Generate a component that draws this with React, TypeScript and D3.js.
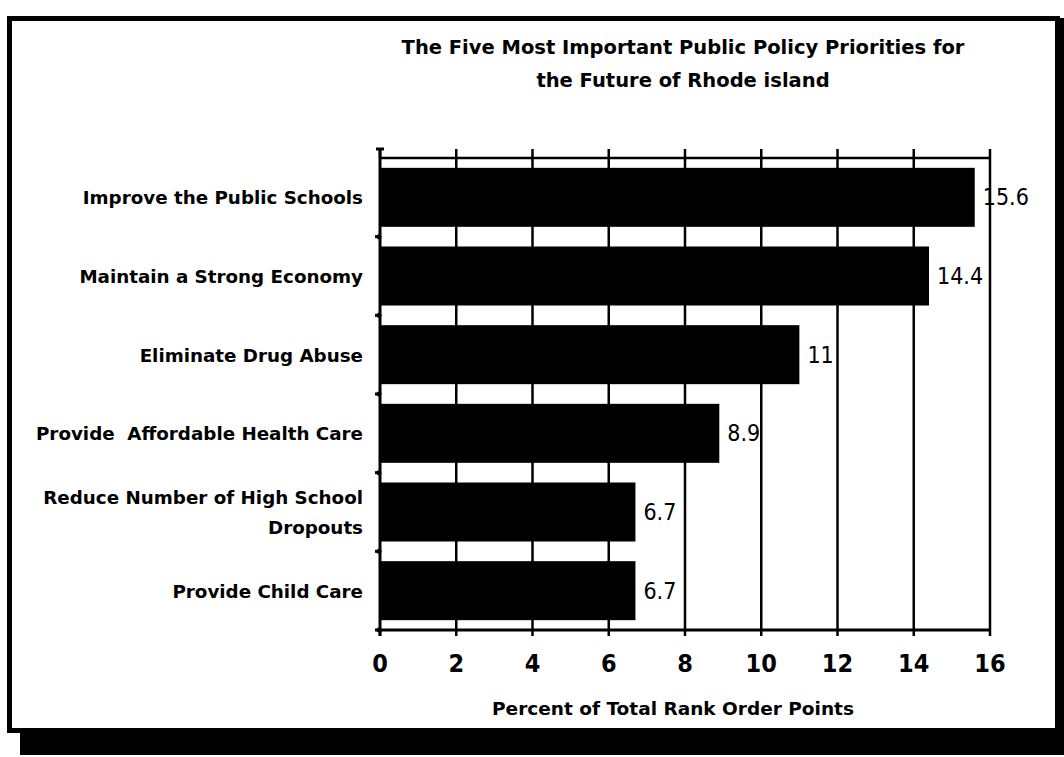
import React from "react";
import * as d3 from "d3";

const titleLines = [
  "The Five Most Important Public Policy Priorities for",
  "the Future of Rhode island",
];
const categories = [
  "Improve the Public Schools",
  "Maintain a Strong Economy",
  "Eliminate Drug Abuse",
  "Provide  Affordable Health Care",
  "Reduce Number of High School\nDropouts",
  "Provide Child Care",
];
const values = [15.6, 14.4, 11, 8.9, 6.7, 6.7];
const valueLabels = ["15.6", "14.4", "11", "8.9", "6.7", "6.7"];
const xTicks = [0, 2, 4, 6, 8, 10, 12, 14, 16];
const xAxisTitle = "Percent of Total Rank Order Points";

const W = 1064;
const H = 757;
const FONT = "'DejaVu Sans', Verdana, sans-serif";
const NARROW = "'Liberation Sans Narrow', 'DejaVu Sans Condensed', 'Liberation Sans', Arial, sans-serif";

export default function App() {
  const x = d3.scaleLinear().domain([0, 16]).range([380, 990]);
  const y = d3
    .scaleBand<string>()
    .domain(categories)
    .range([158, 630])
    .paddingInner(0.25)
    .paddingOuter(0.125);
  const [y0, y1] = y.range();
  const step = y.step();
  const boundaries = categories.slice(1).map((c) => (y(c) as number) - (step - y.bandwidth()) / 2);
  boundaries.push(y1);

  return (
    <svg
      width={W}
      height={H}
      style={{ position: "absolute", left: 0, top: 0, background: "#fff" }}
      fontFamily={FONT}
    >
      <rect x={0} y={0} width={W} height={H} fill="#fff" />
      {/* frame */}
      <rect x={9.5} y={18.5} width={1048} height={712} fill="none" stroke="#000" strokeWidth={5} />
      <rect x={20} y={731} width={1044} height={24} fill="#000" />
      <rect x={1056} y={18} width={8} height={737} fill="#000" />

      {/* title */}
      {titleLines.map((t, i) => (
        <text
          key={i}
          x={683}
          y={54 + i * 33}
          textAnchor="middle"
          fontSize={19.5}
          fontWeight="bold"
          fill="#000"
        >
          {t}
        </text>
      ))}

      {/* gridlines */}
      {xTicks.slice(1).map((t) => (
        <line key={t} x1={x(t)} x2={x(t)} y1={y0} y2={y1} stroke="#000" strokeWidth={2.5} />
      ))}
      {/* top axis */}
      <line x1={x(0)} x2={x(16)} y1={y0} y2={y0} stroke="#000" strokeWidth={2.5} />
      {xTicks.map((t) => (
        <line key={t} x1={x(t)} x2={x(t)} y1={y0 - 9} y2={y0} stroke="#000" strokeWidth={2.5} />
      ))}
      {/* bottom axis */}
      <line x1={x(0)} x2={x(16)} y1={y1} y2={y1} stroke="#000" strokeWidth={3} />
      {xTicks.map((t) => (
        <line key={t} x1={x(t)} x2={x(t)} y1={y1} y2={y1 + 6} stroke="#000" strokeWidth={2.5} />
      ))}
      {/* left axis */}
      <line x1={x(0)} x2={x(0)} y1={y0 - 9} y2={y1 + 6} stroke="#000" strokeWidth={3} />
      <line x1={x(0) - 4} x2={x(0) + 4} y1={y0 - 9} y2={y0 - 9} stroke="#000" strokeWidth={3} />
      {boundaries.map((b, i) => (
        <g key={i}>
          <line x1={x(0) - 5} x2={x(0)} y1={b} y2={b} stroke="#000" strokeWidth={3} />
          <circle cx={x(0) - 1} cy={b} r={2.5} fill="#000" />
        </g>
      ))}

      {/* bars */}
      {categories.map((c, i) => (
        <rect
          key={c}
          x={x(0)}
          y={y(c)}
          width={x(values[i]) - x(0)}
          height={y.bandwidth()}
          fill="#000"
        />
      ))}

      {/* value labels */}
      {categories.map((c, i) => (
        <text
          key={c}
          x={x(values[i]) + 8}
          y={(y(c) as number) + y.bandwidth() / 2 + 8}
          fontSize={23}
          fontFamily={NARROW}
          fill="#000"
        >
          {valueLabels[i]}
        </text>
      ))}

      {/* category labels */}
      {categories.map((c) => {
        const lines = c.split("\n");
        const cy = (y(c) as number) + y.bandwidth() / 2;
        const lh = 30;
        return (
          <text key={c} x={363} textAnchor="end" fontSize={18.3} fontWeight="bold" fill="#000">
            {lines.map((l, j) => (
              <tspan
                key={j}
                x={363}
                y={cy + 7 + (j - (lines.length - 1) / 2) * lh}
                style={{ whiteSpace: "pre" }}
              >
                {l}
              </tspan>
            ))}
          </text>
        );
      })}

      {/* tick labels */}
      {xTicks.map((t) => (
        <text
          key={t}
          x={x(t)}
          y={672}
          textAnchor="middle"
          fontSize={25}
          fontWeight="bold"
          fontFamily={NARROW}
          fill="#000"
        >
          {t}
        </text>
      ))}
      <text x={673} y={715} textAnchor="middle" fontSize={18.5} fontWeight="bold" fill="#000">
        {xAxisTitle}
      </text>
    </svg>
  );
}
